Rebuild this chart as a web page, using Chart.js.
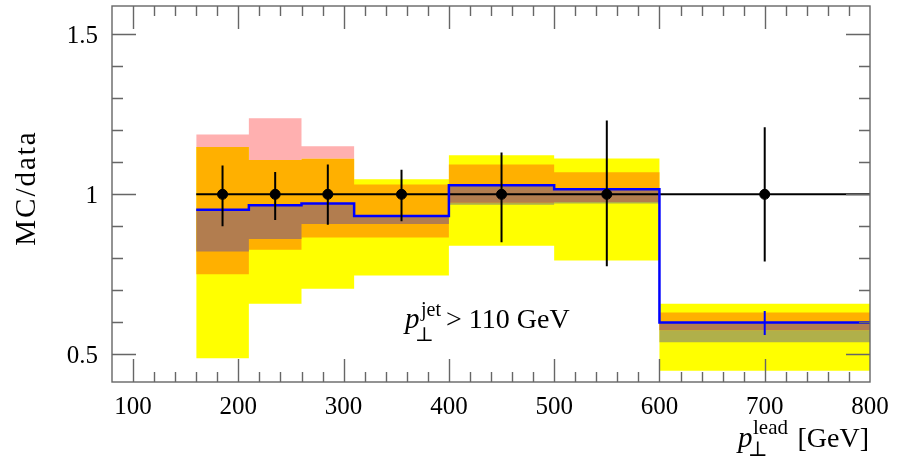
<!DOCTYPE html>
<html>
<head>
<meta charset="utf-8">
<script src="https://cdn.jsdelivr.net/npm/chart.js@4/dist/chart.umd.min.js"></script>
<style>
  html, body { margin: 0; padding: 0; background: #fff; }
  #wrap { width: 899px; height: 459px; }
</style>
</head>
<body>
<div id="wrap"><canvas id="chart" width="899" height="459"></canvas></div>
<script>
// bin edges in p_T lead [GeV] and bin centres for the data points
const binEdges = [160, 210, 260, 310, 400, 500, 600, 800];
const binCentres = [185, 235, 285, 355, 450, 550, 700];

// data / data ratio with its errors
const dataRatio = [1, 1, 1, 1, 1, 1, 1];
const dataErrLo = [0.900, 0.920, 0.905, 0.916, 0.850, 0.775, 0.790];
const dataErrHi = [1.090, 1.070, 1.093, 1.077, 1.131, 1.231, 1.210];

// MC central ratio (blue)
const mcRatio = [0.952, 0.966, 0.971, 0.932, 1.028, 1.016, 0.599];
const mcErrLo = [null, null, null, null, null, null, 0.560];
const mcErrHi = [null, null, null, null, null, null, 0.635];

// uncertainty bands
const yellowLo = [0.487, 0.658, 0.705, 0.746, 0.839, 0.793, 0.448];
const yellowHi = [1.148, 1.107, 1.111, 1.047, 1.122, 1.112, 0.658];
const orangeLo = [0.750, 0.827, 0.865, 0.865, 0.974, 0.976, 0.575];
const orangeHi = [1.148, 1.107, 1.111, 1.031, 1.093, 1.069, 0.630];
const pinkHi   = [1.187, 1.238, 1.150, 1.031, 1.093, 1.069, 0.630];
const brownLo  = [0.821, 0.860, 0.907, 0.907, 0.974, 0.976, 0.575];
const oliveLo  = [0.821, 0.860, 0.907, 0.907, 0.967, 0.971, 0.537];

// axis ticks
const xMajorTicks = [100, 200, 300, 400, 500, 600, 700, 800];
const xMinorStep = 20;
const yMajorTicks = [0.5, 1, 1.5];
const yTickLabels = ['0.5', '1', '1.5'];
const yMinorStep = 0.1;

const X_MIN = 80, X_MAX = 800;
const Y_MIN = 0.413, Y_MAX = 1.589;

const SERIF = '"Liberation Serif", "DejaVu Serif", serif';

// turn per-bin values into a stepped histogram line
const histPoints = (vals) => {
  const pts = vals.map((v, i) => ({ x: binEdges[i], y: v }));
  pts.push({ x: binEdges[binEdges.length - 1], y: vals[vals.length - 1] });
  return pts;
};

// vertical error bars as one broken line
const errPoints = (lo, hi) => {
  const pts = [];
  binCentres.forEach((x, i) => {
    if (lo[i] === null) return;
    pts.push({ x: x, y: lo[i] }, { x: x, y: hi[i] }, { x: x, y: null });
  });
  return pts;
};

const edgeLine = (vals, order) => ({
  type: 'line', data: histPoints(vals), stepped: true,
  borderWidth: 0, borderColor: 'rgba(0,0,0,0)', pointRadius: 0, fill: false, order: order
});
const bandLine = (vals, color, order) => ({
  type: 'line', data: histPoints(vals), stepped: true,
  borderWidth: 0, borderColor: 'rgba(0,0,0,0)', pointRadius: 0,
  fill: '-1', backgroundColor: color, order: order
});

const datasets = [
  edgeLine(yellowLo, 20), bandLine(yellowHi, '#ffff00', 20),
  edgeLine(orangeHi, 19), bandLine(pinkHi, '#ffb0b0', 19),
  edgeLine(orangeLo, 18), bandLine(orangeHi, '#ffb000', 18),
  edgeLine(oliveLo, 17), bandLine(brownLo, '#b0b04a', 17),
  edgeLine(brownLo, 16), bandLine(mcRatio, '#b27d4f', 16),
  {
    type: 'line', data: [{ x: binEdges[0], y: 1 }, { x: X_MAX, y: 1 }],
    borderColor: '#000', borderWidth: 2, pointRadius: 0, fill: false, order: 5
  },
  {
    type: 'line', data: histPoints(mcRatio), stepped: true,
    borderColor: '#0000ff', borderWidth: 2.5, pointRadius: 0, fill: false, order: 4
  },
  {
    type: 'line', data: errPoints(dataErrLo, dataErrHi), spanGaps: false,
    borderColor: '#000', borderWidth: 2, pointRadius: 0, fill: false, order: 3
  },
  {
    type: 'line', data: errPoints(mcErrLo, mcErrHi), spanGaps: false,
    borderColor: '#0000ff', borderWidth: 2, pointRadius: 0, fill: false, order: 2
  },
  {
    type: 'line', data: binCentres.map((x, i) => ({ x: x, y: dataRatio[i] })), showLine: false,
    pointRadius: 5, pointBackgroundColor: '#000', pointBorderColor: '#000', order: 1
  }
];

// frame, inward ticks and all the texts
const framePlugin = {
  id: 'frame',
  afterDraw(chart) {
    const { ctx, chartArea: a, scales } = chart;
    const xs = scales.x, ys = scales.y;
    ctx.save();
    ctx.strokeStyle = '#666';
    ctx.lineWidth = 1.4;
    ctx.strokeRect(a.left, a.top, a.right - a.left, a.bottom - a.top);

    ctx.beginPath();
    for (let v = X_MIN + xMinorStep; v < X_MAX - 1e-6; v += xMinorStep) {
      const px = Math.round(xs.getPixelForValue(v)) + 0.5;
      const major = xMajorTicks.some(t => Math.abs(t - v) < 1e-6);
      const len = major ? 23 : 10;
      ctx.moveTo(px, a.bottom); ctx.lineTo(px, a.bottom - len);
      ctx.moveTo(px, a.top); ctx.lineTo(px, a.top + len);
    }
    for (let v = 0.5; v < Y_MAX; v += yMinorStep) {
      const py = Math.round(ys.getPixelForValue(v)) + 0.5;
      const major = yMajorTicks.some(t => Math.abs(t - v) < 1e-6);
      const len = major ? 24 : 11;
      ctx.moveTo(a.left, py); ctx.lineTo(a.left + len, py);
      ctx.moveTo(a.right, py); ctx.lineTo(a.right - len, py);
    }
    ctx.stroke();

    ctx.fillStyle = '#000';
    ctx.font = '25px ' + SERIF;
    ctx.textAlign = 'center';
    ctx.textBaseline = 'alphabetic';
    xMajorTicks.forEach(t => ctx.fillText(String(t), xs.getPixelForValue(t), 414));
    ctx.textAlign = 'right';
    ctx.textBaseline = 'middle';
    yMajorTicks.forEach((t, i) => ctx.fillText(yTickLabels[i], 98, ys.getPixelForValue(t) + 2));

    // y title
    ctx.save();
    ctx.translate(35, 188);
    ctx.rotate(-Math.PI / 2);
    ctx.textAlign = 'center';
    ctx.textBaseline = 'alphabetic';
    ctx.font = '29px ' + SERIF;
    ctx.letterSpacing = '2px';
    ctx.fillText('MC/data', 0, 0);
    ctx.restore();

    ctx.textBaseline = 'alphabetic';
    ctx.textAlign = 'left';
    // x title
    ctx.font = 'italic 29px ' + SERIF;
    ctx.fillText('p', 738, 447);
    ctx.font = '21px ' + SERIF;
    ctx.fillText('lead', 753, 434);
    ctx.fillText('\u22a5', 748, 456);
    ctx.textAlign = 'right';
    ctx.font = '28px ' + SERIF;
    ctx.fillText('[GeV]', 869, 447);

    // cut label
    ctx.textAlign = 'left';
    ctx.font = 'italic 29px ' + SERIF;
    ctx.fillText('p', 405, 328);
    ctx.font = '20px ' + SERIF;
    ctx.fillText('jet', 421, 316);
    ctx.fillText('\u22a5', 415, 341);
    ctx.font = '28px ' + SERIF;
    ctx.fillText('> 110 GeV', 446, 328);
    ctx.restore();
  }
};

new Chart(document.getElementById('chart'), {
  type: 'line',
  data: { datasets: datasets },
  options: {
    responsive: false,
    animation: false,
    layout: { padding: { left: 112, right: 29, top: 4, bottom: 77 } },
    plugins: { legend: { display: false }, tooltip: { enabled: false } },
    scales: {
      x: { type: 'linear', min: X_MIN, max: X_MAX, display: false },
      y: { type: 'linear', min: Y_MIN, max: Y_MAX, display: false }
    }
  },
  plugins: [framePlugin]
});
</script>
</body>
</html>
